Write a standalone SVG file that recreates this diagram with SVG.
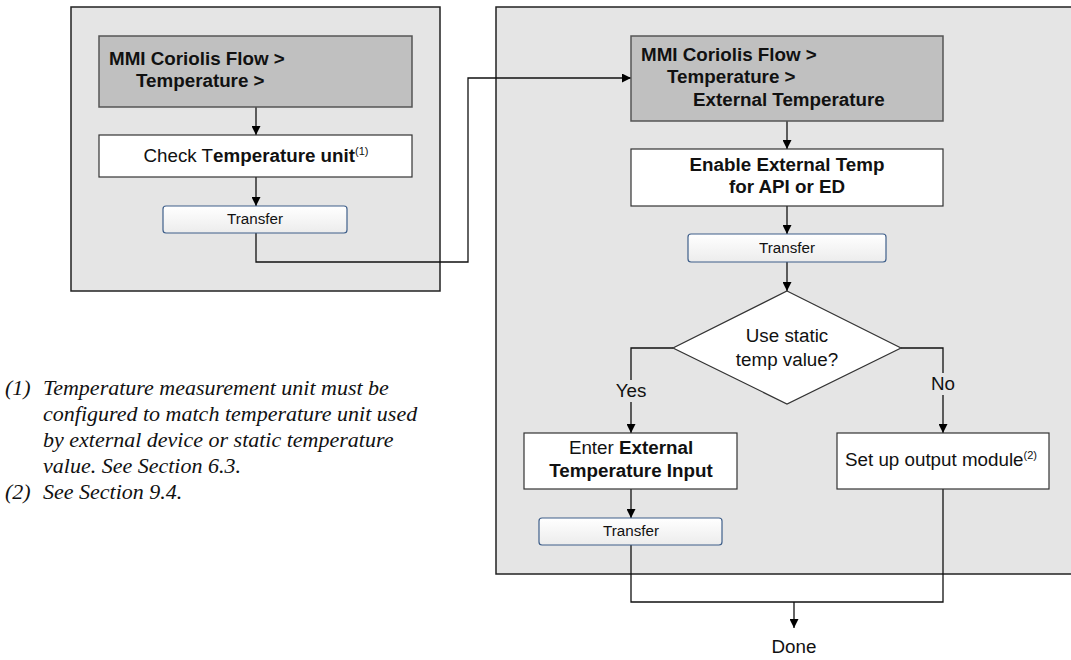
<svg xmlns="http://www.w3.org/2000/svg" width="1071" height="660" viewBox="0 0 1071 660">
<defs>
  <linearGradient id="btn" x1="0" y1="0" x2="0" y2="1">
    <stop offset="0" stop-color="#ffffff"/>
    <stop offset="1" stop-color="#ececec"/>
  </linearGradient>
  <marker id="arr" viewBox="0 0 10 10" refX="10" refY="5" markerWidth="9" markerHeight="9" markerUnits="userSpaceOnUse" orient="auto">
    <path d="M0,0 L10,5 L0,10 z" fill="#000"/>
  </marker>
</defs>
<style>
  .cont { fill: #e5e5e5; stroke: #222; stroke-width: 1.5; }
  .hdr { fill: #c0c0c0; stroke: #555; stroke-width: 1.5; }
  .box { fill: #fff; stroke: #333; stroke-width: 1.2; }
  .btn { fill: url(#btn); stroke: #3f5f8a; stroke-width: 1.2; }
  .dia { fill: #fff; stroke: #333; stroke-width: 1.2; }
  .t { font-family: "Liberation Sans", Arial, sans-serif; font-size: 18.8px; fill: #111; }
  .b { font-weight: bold; }
  .bt { font-family: "Liberation Sans", Arial, sans-serif; font-size: 15.2px; fill: #111; }
  .sup { font-size: 11px; }
  .fn { font-family: "Liberation Serif", "Times New Roman", serif; font-style: italic; font-size: 22px; fill: #111; }
  .ln { fill: none; stroke: #111; stroke-width: 1.3; }
  .lnA { fill: none; stroke: #111; stroke-width: 1.3; marker-end: url(#arr); }
  .lbl { fill: #e5e5e5; }
</style>

<g id="container-left">
  <rect class="cont" x="71" y="7" width="369" height="284"/>
</g>
<g id="container-right">
  <rect class="cont" x="496" y="7" width="590" height="567"/>
</g>

<g id="connectors">
  <line class="lnA" x1="256" y1="107" x2="256" y2="135"/>
  <line class="lnA" x1="256" y1="177" x2="256" y2="206"/>
  <polyline class="lnA" points="256,233 256,262 468,262 468,78 631,78"/>
  <line class="lnA" x1="787" y1="121" x2="787" y2="149"/>
  <line class="lnA" x1="787" y1="206" x2="787" y2="234"/>
  <line class="lnA" x1="787" y1="262" x2="787" y2="291"/>
  <polyline class="lnA" points="673,348 631,348 631,433"/>
  <polyline class="lnA" points="901,348 943,348 943,433"/>
  <line class="lnA" x1="631" y1="489" x2="631" y2="518"/>
  <polyline class="ln" points="631,545 631,602 943,602 943,489"/>
  <line class="lnA" x1="794" y1="602" x2="794" y2="628"/>
  <rect class="lbl" x="615" y="380" width="32" height="22"/>
  <text class="t" x="631" y="397" text-anchor="middle">Yes</text>
  <rect class="lbl" x="929" y="373" width="28" height="22"/>
  <text class="t" x="943" y="390" text-anchor="middle">No</text>
</g>

<g id="node-mmi-left">
  <rect class="hdr" x="99" y="36" width="313" height="71"/>
  <text class="t b" x="109" y="65">MMI Coriolis Flow &gt;</text>
  <text class="t b" x="136" y="87">Temperature &gt;</text>
</g>
<g id="node-check-unit">
  <rect class="box" x="99" y="135" width="313" height="42"/>
  <text class="t" x="256" y="162" text-anchor="middle">Check T<tspan class="b">emperature unit</tspan><tspan class="sup" dy="-7">(1)</tspan></text>
</g>
<g id="node-transfer-1">
  <rect class="btn" x="163" y="206" width="184" height="27" rx="3"/>
  <text class="bt" x="255" y="224" text-anchor="middle">Transfer</text>
</g>

<g id="node-mmi-right">
  <rect class="hdr" x="631" y="36" width="312" height="85"/>
  <text class="t b" x="641" y="61">MMI Coriolis Flow &gt;</text>
  <text class="t b" x="667" y="83">Temperature &gt;</text>
  <text class="t b" x="693" y="106">External Temperature</text>
</g>
<g id="node-enable">
  <rect class="box" x="631" y="149" width="312" height="57"/>
  <text class="t b" x="787" y="171" text-anchor="middle">Enable External Temp</text>
  <text class="t b" x="787" y="193" text-anchor="middle">for API or ED</text>
</g>
<g id="node-transfer-2">
  <rect class="btn" x="688" y="234" width="198" height="28" rx="3"/>
  <text class="bt" x="787" y="253" text-anchor="middle">Transfer</text>
</g>
<g id="node-decision">
  <polygon class="dia" points="787,291 901,348 787,404 673,348"/>
  <text class="t" x="787" y="342" text-anchor="middle">Use static</text>
  <text class="t" x="787" y="366" text-anchor="middle">temp value?</text>
</g>
<g id="node-enter">
  <rect class="box" x="524" y="433" width="213" height="56"/>
  <text class="t" x="631" y="454" text-anchor="middle">Enter <tspan class="b">External</tspan></text>
  <text class="t b" x="631" y="477" text-anchor="middle">Temperature Input</text>
</g>
<g id="node-transfer-3">
  <rect class="btn" x="539" y="518" width="183" height="27" rx="3"/>
  <text class="bt" x="631" y="536" text-anchor="middle">Transfer</text>
</g>
<g id="node-setup">
  <rect class="box" x="837" y="433" width="212" height="56"/>
  <text class="t" x="941" y="466" text-anchor="middle">Set up output module<tspan class="sup" dy="-7">(2)</tspan></text>
</g>
<g id="node-done">
  <text class="t" x="794" y="653" text-anchor="middle">Done</text>
</g>

<g id="footnotes">
  <text class="fn" x="5" y="395">(1)</text>
  <text class="fn" x="43" y="395">Temperature measurement unit must be</text>
  <text class="fn" x="43" y="421">configured to match temperature unit used</text>
  <text class="fn" x="43" y="447">by external device or static temperature</text>
  <text class="fn" x="43" y="473">value. See Section 6.3.</text>
  <text class="fn" x="5" y="499">(2)</text>
  <text class="fn" x="43" y="499">See Section 9.4.</text>
</g>
</svg>
